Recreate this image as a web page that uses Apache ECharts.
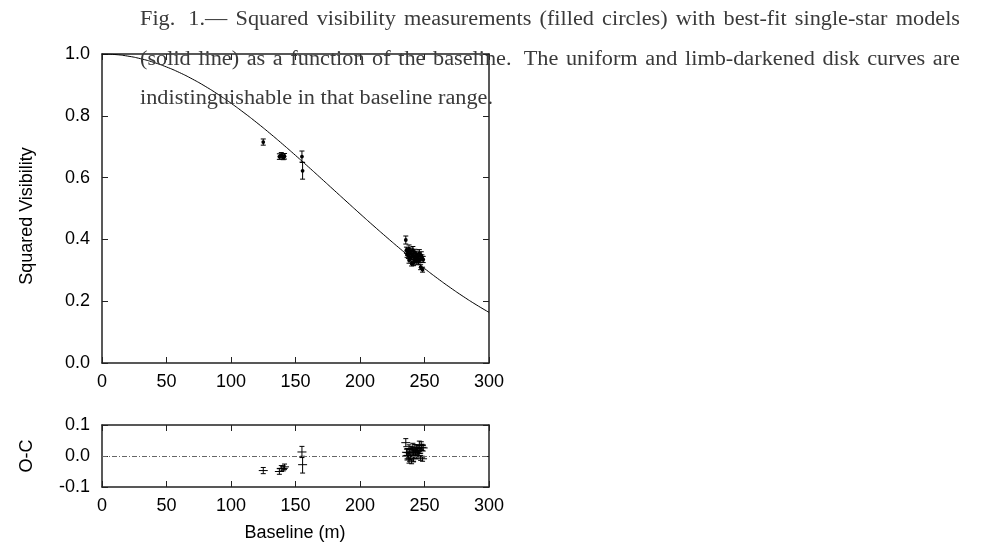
<!DOCTYPE html>
<html><head><meta charset="utf-8">
<script src="https://cdn.jsdelivr.net/npm/echarts@6/dist/echarts.min.js"></script>
<style>html,body{margin:0;padding:0;background:#fff}#c{width:989px;height:546px}</style>
</head><body><div id="c"></div>
<script>
// ---- data ----
const baselineTicks = [0, 50, 100, 150, 200, 250, 300];
const visTicks = [0.0, 0.2, 0.4, 0.6, 0.8, 1.0];
const ocTicks = [-0.1, 0.0, 0.1];

const modelBaseline = [0,10,20,30,40,50,60,70,80,90,100,110,120,130,140,150,160,170,180,190,200,210,220,230,240,250,260,270,280,290,300];
const modelV2 = [1.0,0.9983,0.9932,0.9847,0.9730,0.9580,0.9401,0.9191,0.8955,0.8693,0.8408,0.8102,0.7778,0.7438,0.7084,0.6719,0.6347,0.5969,0.5589,0.5209,0.4831,0.4458,0.4093,0.3736,0.3391,0.3059,0.2741,0.2439,0.2154,0.1887,0.1639];

const obsBaseline = [125.0,137.5,139.0,140.5,141.5,155.0,155.5,
  235.5,236.0,236.5,237.0,237.5,238.0,238.5,239.0,239.5,240.0,240.5,241.0,241.5,242.0,242.5,243.0,243.5,244.0,244.5,245.0,245.5,246.0,246.5,247.0,247.5,248.0,248.5,249.0,238.0,241.5];
const obsV2 = [0.715,0.668,0.672,0.666,0.669,0.668,0.622,
  0.398,0.365,0.352,0.360,0.348,0.370,0.355,0.340,0.362,0.322,0.350,0.365,0.345,0.335,0.358,0.340,0.328,0.352,0.338,0.345,0.330,0.355,0.335,0.310,0.348,0.340,0.302,0.335,0.333,0.325];
const obsErr = [0.010,0.009,0.009,0.008,0.009,0.018,0.027,
  0.013,0.010,0.010,0.012,0.010,0.012,0.010,0.010,0.010,0.008,0.010,0.012,0.010,0.010,0.010,0.010,0.010,0.010,0.010,0.010,0.010,0.012,0.010,0.008,0.012,0.010,0.008,0.010,0.010,0.010];
const obsOC = [-0.047,-0.050,-0.040,-0.040,-0.035,0.013,-0.028,
  0.043,0.012,0.001,0.011,0.000,0.024,0.011,-0.003,0.021,-0.017,0.013,0.029,0.011,0.003,0.027,0.011,0.001,0.026,0.014,0.023,0.009,0.036,0.018,-0.006,0.034,0.028,-0.009,0.026,-0.013,-0.009];

const captionLines = [
  "Fig.  1.— Squared visibility measurements (filled circles) with best-fit single-star models",
  "(solid line) as a function of the baseline.  The uniform and limb-darkened disk curves are",
  "indistinguishable in that baseline range."
];
const yTitle = "Squared Visibility";
const ocTitle = "O-C";
const xTitle = "Baseline (m)";

// ---- chart ----
const chart = echarts.init(document.getElementById('c'), null, {renderer: 'canvas'});
const SANS = '"Liberation Sans", Arial, sans-serif';
const SERIF = '"Liberation Serif", "Times New Roman", serif';
const FRAME = '#222';
const FRAME_W = 1.5;

function makeX(grid, pos, labels) {
  return {
    type: 'value', gridIndex: grid, position: pos, min: 0, max: 300, interval: 50,
    axisLine: {show: true, onZero: false, lineStyle: {color: FRAME, width: FRAME_W}},
    axisTick: {show: true, inside: true, length: 6, lineStyle: {color: FRAME, width: 1}},
    axisLabel: {show: labels, fontFamily: SANS, fontSize: 18, color: '#000', margin: 10},
    splitLine: {show: false}
  };
}
function makeY(grid, pos, labels, min, max, interval) {
  return {
    type: 'value', gridIndex: grid, position: pos, min: min, max: max, interval: interval,
    axisLine: {show: true, onZero: false, lineStyle: {color: FRAME, width: FRAME_W}},
    axisTick: {show: true, inside: true, length: 6, lineStyle: {color: FRAME, width: 1}},
    axisLabel: {show: labels, fontFamily: SANS, fontSize: 18, color: '#000', margin: 12,
      formatter: v => (Math.abs(v) < 1e-9 ? 0 : v).toFixed(1)},
    splitLine: {show: false}
  };
}

function errRender(kind) {
  return function (params, api) {
    const x = api.value(0), y = api.value(1), e = api.value(2);
    const p = api.coord([x, y]);
    const t = api.coord([x, y + e]);
    const b = api.coord([x, y - e]);
    const cap = 2.5;
    const st = {stroke: '#000', lineWidth: 1};
    const ch = [
      {type: 'line', shape: {x1: p[0], y1: t[1], x2: p[0], y2: b[1]}, style: st},
      {type: 'line', shape: {x1: p[0] - cap, y1: t[1], x2: p[0] + cap, y2: t[1]}, style: st},
      {type: 'line', shape: {x1: p[0] - cap, y1: b[1], x2: p[0] + cap, y2: b[1]}, style: st}
    ];
    if (kind === 'circle') {
      ch.push({type: 'circle', shape: {cx: p[0], cy: p[1], r: 1.9}, style: {fill: '#000'}});
    } else {
      ch.push({type: 'line', shape: {x1: p[0] - 4.5, y1: p[1], x2: p[0] + 4.5, y2: p[1]}, style: st});
    }
    return {type: 'group', children: ch};
  };
}

// caption, justified, horizontally stretched to match a wider serif face
const mctx = document.createElement('canvas').getContext('2d');
const capFontSize = 20;
mctx.font = capFontSize + 'px ' + SERIF;
const capLeft = 140, capRight = 960;
const capY = [19.5, 59.5, 98.5];
const lastLineWidth = 353;
const sx = lastLineWidth / mctx.measureText(captionLines[2]).width;
const graphics = [];
captionLines.forEach((line, li) => {
  const words = line.split(/ +/);
  const gaps = [];
  const re = / +/g; let m;
  while ((m = re.exec(line)) !== null) gaps.push(m[0].length > 1 ? 1.6 : 1);
  const widths = words.map(w => mctx.measureText(w).width * sx);
  const total = widths.reduce((a, b) => a + b, 0);
  const justify = li < captionLines.length - 1;
  const gw = gaps.reduce((a, b) => a + b, 0);
  const unit = justify ? (capRight - capLeft - total) / gw : mctx.measureText(' ').width * sx;
  let x = capLeft;
  words.forEach((w, i) => {
    graphics.push({type: 'text', x: x, y: capY[li], scaleX: sx, scaleY: 1, z: 100,
      style: {text: w, font: capFontSize + 'px ' + SERIF, fill: '#3a3a3a', textVerticalAlign: 'middle', verticalAlign: 'middle'}});
    x += widths[i] + (i < gaps.length ? gaps[i] * unit : 0);
  });
});
graphics.push({type: 'text', x: 27, y: 216, rotation: Math.PI / 2, z: 100,
  style: {text: yTitle, font: '18px ' + SANS, fill: '#000', align: 'center', verticalAlign: 'middle', textAlign: 'center', textVerticalAlign: 'middle'}});
graphics.push({type: 'text', x: 27, y: 456, rotation: Math.PI / 2, z: 100,
  style: {text: ocTitle, font: '18px ' + SANS, fill: '#000', align: 'center', verticalAlign: 'middle', textAlign: 'center', textVerticalAlign: 'middle'}});
graphics.push({type: 'text', x: 295, y: 533, z: 100,
  style: {text: xTitle, font: '18px ' + SANS, fill: '#000', align: 'center', verticalAlign: 'middle', textAlign: 'center', textVerticalAlign: 'middle'}});

const topData = obsBaseline.map((b, i) => [b, obsV2[i], obsErr[i]]);
const ocData = obsBaseline.map((b, i) => [b, obsOC[i], obsErr[i]]);

chart.setOption({
  animation: false,
  backgroundColor: '#fff',
  grid: [
    {left: 102, top: 54, width: 387, height: 309, containLabel: false},
    {left: 102, top: 425, width: 387, height: 62, containLabel: false}
  ],
  xAxis: [makeX(0, 'bottom', true), makeX(0, 'top', false), makeX(1, 'bottom', true), makeX(1, 'top', false)],
  yAxis: [makeY(0, 'left', true, 0, 1, 0.2), makeY(0, 'right', false, 0, 1, 0.2),
          makeY(1, 'left', true, -0.1, 0.1, 0.1), makeY(1, 'right', false, -0.1, 0.1, 0.1)],
  series: [
    {type: 'line', xAxisIndex: 0, yAxisIndex: 0, data: modelBaseline.map((b, i) => [b, modelV2[i]]),
      showSymbol: false, smooth: true, lineStyle: {color: '#000', width: 1}, z: 3},
    {type: 'custom', xAxisIndex: 0, yAxisIndex: 0, data: topData, encode: {x: 0, y: 1},
      renderItem: errRender('circle'), z: 4},
    {type: 'custom', xAxisIndex: 2, yAxisIndex: 2, data: ocData, encode: {x: 0, y: 1},
      renderItem: errRender('plus'), z: 4,
      markLine: {silent: true, symbol: ['none', 'none'], label: {show: false},
        lineStyle: {color: '#666', width: 1, type: [5, 2, 1, 2]},
        data: [{yAxis: 0}]}}
  ],
  graphic: graphics
});
</script>
</body></html>
